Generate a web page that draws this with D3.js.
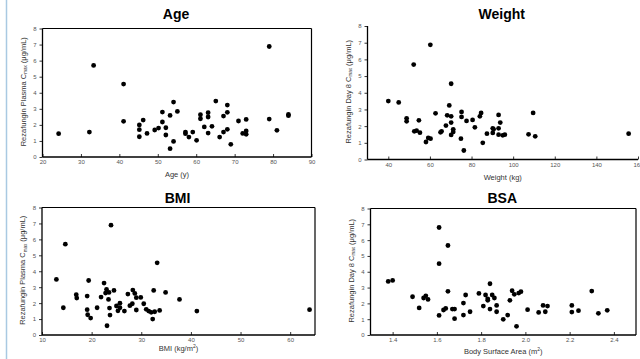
<!DOCTYPE html>
<html>
<head>
<meta charset="utf-8">
<script src="https://cdn.jsdelivr.net/npm/d3@7"></script>
<style>
  body { margin: 0; background: #fff; }
  svg { display: block; font-family: "Liberation Sans", Arial, sans-serif; }
</style>
</head>
<body>
<div id="chart"></div>
<script>
// values
const ageX = [24.2, 32.2, 33.3, 41.1, 41.1, 45.2, 45.2, 45.2, 46.2, 47.2, 49.2, 50.2, 51.2, 51.2, 52.1, 52.1, 53.2, 53.2, 54.1, 54.1, 55.1, 57.2, 57.2, 58.1, 59.1, 60.1, 61.1, 61.1, 62.1, 63.1, 63.1, 63.1, 64.1, 65.1, 66.1, 67.1, 67.1, 68.1, 68.1, 68.1, 69.0, 71.0, 72.1, 73.0, 73.0, 73.0, 79.0, 79.0, 81.0, 84.0, 84.0];
const ageY = [1.45, 1.55, 5.7, 4.54, 2.22, 2.0, 1.7, 1.26, 2.3, 1.47, 1.68, 1.8, 2.8, 2.18, 1.82, 1.37, 2.59, 0.52, 3.42, 0.97, 2.84, 1.55, 1.45, 1.24, 1.55, 1.04, 2.63, 2.38, 1.87, 2.76, 2.49, 1.49, 1.91, 3.48, 1.24, 2.55, 1.55, 3.23, 2.78, 1.72, 0.79, 2.24, 1.47, 2.34, 1.62, 1.41, 6.88, 2.36, 1.66, 2.65, 2.57];

const weightX = [40, 45, 48.8, 48.8, 52.2, 52.5, 53.6, 54.7, 55.2, 60.2, 58.1, 59.2, 60.3, 62.7, 65.1, 65.6, 67.7, 68.3, 69.3, 70.2, 70.2, 70.2, 70.2, 71.2, 71.2, 74.9, 75.2, 75.2, 76.3, 77.6, 80.5, 81.6, 84.0, 84.6, 85.4, 87.4, 90.2, 90.2, 90.6, 93.0, 93.0, 93.0, 93.8, 95.0, 96.0, 107.4, 110.6, 109.6, 155.5];
const weightY = [3.5, 3.42, 2.47, 2.29, 5.69, 1.69, 1.73, 2.35, 1.61, 6.87, 1.05, 1.29, 1.25, 2.77, 1.63, 1.69, 2.03, 2.65, 3.24, 4.54, 2.59, 2.21, 1.47, 1.81, 1.65, 1.25, 2.85, 2.55, 0.54, 2.31, 2.37, 1.93, 2.59, 2.79, 1.0, 1.55, 1.87, 1.59, 1.81, 2.67, 1.87, 1.49, 2.21, 1.45, 1.49, 1.51, 1.39, 2.79, 1.55];

const bmiX = [12.9, 14.3, 14.7, 16.9, 17.0, 19.1, 19.1, 19.2, 19.4, 19.8, 21.1, 21.9, 22.5, 22.8, 23.0, 23.1, 23.4, 23.5, 23.6, 23.7, 23.9, 24.5, 25.0, 25.3, 25.7, 25.7, 26.6, 27.3, 27.7, 28.2, 28.3, 28.7, 29.0, 29.0, 29.9, 30.5, 31.0, 31.5, 32.0, 32.3, 32.5, 32.7, 33.2, 33.7, 34.9, 37.7, 41.2, 63.9];
const bmiY = [3.49, 1.71, 5.7, 2.53, 2.32, 2.44, 1.59, 1.27, 3.42, 1.06, 1.71, 2.38, 3.26, 2.63, 2.86, 0.58, 2.23, 2.67, 1.69, 1.25, 6.89, 2.8, 1.82, 1.52, 2.0, 1.71, 1.5, 2.57, 1.84, 1.96, 2.82, 2.61, 2.34, 1.57, 2.36, 1.96, 1.61, 1.5, 1.42, 1.0, 2.8, 1.46, 4.53, 1.54, 2.67, 2.23, 1.5, 1.59];

const bsaX = [1.38, 1.40, 1.49, 1.52, 1.54, 1.55, 1.56, 1.61, 1.61, 1.61, 1.63, 1.64, 1.65, 1.65, 1.67, 1.68, 1.68, 1.72, 1.72, 1.73, 1.75, 1.79, 1.81, 1.82, 1.83, 1.83, 1.84, 1.84, 1.85, 1.86, 1.87, 1.87, 1.90, 1.92, 1.93, 1.94, 1.95, 1.96, 1.97, 1.98, 2.01, 2.06, 2.08, 2.09, 2.10, 2.21, 2.21, 2.24, 2.30, 2.33, 2.37];
const bsaY = [3.39, 3.45, 2.42, 1.71, 2.34, 2.48, 2.25, 1.24, 4.51, 6.8, 1.58, 1.68, 5.66, 2.76, 1.64, 1.03, 1.64, 2.02, 1.26, 2.53, 1.47, 2.63, 1.83, 2.53, 2.29, 2.19, 3.24, 1.64, 2.53, 2.34, 1.87, 1.47, 0.99, 1.26, 2.19, 2.8, 2.57, 0.55, 2.65, 2.74, 1.6, 1.43, 1.87, 1.47, 1.83, 1.87, 1.45, 1.54, 2.78, 1.37, 1.56];

const yTicks = [0, 1, 2, 3, 4, 5, 6, 7, 8];
const ageTicks = [20, 30, 40, 50, 60, 70, 80, 90];
const weightTicks = [40, 60, 80, 100, 120, 140, 160];
const bmiTicks = [10, 20, 30, 40, 50, 60];
const bsaTicks = [1.4, 1.6, 1.8, 2.0, 2.2, 2.4];

const width = 640, height = 359;

const svg = d3.select('#chart').append('svg')
  .attr('width', width)
  .attr('height', height);

// slide edge line
svg.append('line')
  .attr('x1', 6.5).attr('x2', 6.5)
  .attr('y1', 0).attr('y2', height)
  .attr('stroke', '#a9c9e2')
  .attr('stroke-width', 1.5);

const panels = [
  { title: 'Age', xs: ageX, ys: ageY, xDomain: [20, 90], ticks: ageTicks, fmt: d3.format('d'),
    left: 42.5, right: 311.5, top: 28.5, bottom: 157, titleY: 19, xLabel: 'Age (y)', xLabelY: 177,
    yLabel: 'Rezafungin Plasma C', frame: true },
  { title: 'Weight', xs: weightX, ys: weightY, xDomain: [30, 160], ticks: weightTicks, fmt: d3.format('d'),
    left: 367.5, right: 638, top: 26, bottom: 159.5, titleY: 19, xLabel: 'Weight (kg)', xLabelY: 180,
    yLabel: 'Rezafungin Day 8 C', frame: false },
  { title: 'BMI', xs: bmiX, ys: bmiY, xDomain: [10, 65], ticks: bmiTicks, fmt: d3.format('d'),
    left: 42, right: 315, top: 207.5, bottom: 335, titleY: 203, xLabel: 'BMI (kg/m', sup: true, xLabelY: 351,
    yLabel: 'Rezafungin Plasma C', frame: true },
  { title: 'BSA', xs: bsaX, ys: bsaY, xDomain: [1.3, 2.5], ticks: bsaTicks, fmt: d3.format('.1f'),
    left: 370.5, right: 636, top: 208.5, bottom: 335, titleY: 203, xLabel: 'Body Surface Area (m', sup: true, xLabelY: 354,
    yLabel: 'Rezafungin Day 8 C', frame: true }
];

panels.forEach(p => {
  const x = d3.scaleLinear().domain(p.xDomain).range([p.left, p.right]);
  const y = d3.scaleLinear().domain([0, 8]).range([p.bottom, p.top]);
  const g = svg.append('g');

  // title
  g.append('text')
    .attr('x', (p.left + p.right) / 2 - 1)
    .attr('y', p.titleY)
    .attr('text-anchor', 'middle')
    .attr('font-family', '"Liberation Sans Narrow", "Liberation Sans", Arial, sans-serif')
    .attr('font-weight', 'bold')
    .attr('font-size', 14)
    .text(p.title);

  // axes: x ticks point inward, y ticks outward
  const xAxis = d3.axisBottom(x).tickValues(p.ticks).tickFormat(p.fmt).tickSize(-3).tickPadding(3);
  const yAxis = d3.axisLeft(y).tickValues(yTicks).tickSize(3).tickPadding(3);

  const xg = g.append('g').attr('transform', `translate(0,${p.bottom})`).call(xAxis);
  const yg = g.append('g').attr('transform', `translate(${p.left},0)`).call(yAxis);
  [xg, yg].forEach(a => {
    a.select('.domain').remove();
    a.selectAll('line').attr('stroke', '#000').attr('stroke-width', 0.8);
    a.selectAll('text').attr('font-size', 6).attr('fill', '#555');
  });

  // axis lines / frame
  g.append('line').attr('x1', p.left).attr('x2', p.left).attr('y1', p.top).attr('y2', p.bottom)
    .attr('stroke', '#000').attr('stroke-width', 1.3);
  g.append('line').attr('x1', p.left).attr('x2', p.right).attr('y1', p.bottom).attr('y2', p.bottom)
    .attr('stroke', '#000').attr('stroke-width', 1.3);
  if (p.frame) {
    g.append('line').attr('x1', p.left).attr('x2', p.right).attr('y1', p.top).attr('y2', p.top)
      .attr('stroke', '#000').attr('stroke-width', 1.2);
    g.append('line').attr('x1', p.right).attr('x2', p.right).attr('y1', p.top).attr('y2', p.bottom)
      .attr('stroke', '#000').attr('stroke-width', 1.2);
  }

  // x label
  const xl = g.append('text')
    .attr('x', (p.left + p.right) / 2)
    .attr('y', p.xLabelY)
    .attr('text-anchor', 'middle')
    .attr('font-size', 7.5)
    .attr('fill', '#333')
    .text(p.xLabel);
  if (p.sup) {
    xl.append('tspan').attr('dy', -3).attr('font-size', 5).text('2');
    xl.append('tspan').attr('dy', 3).text(')');
  }

  // y label
  const yl = g.append('text')
    .attr('transform', `translate(${p.left - 17},${(p.top + p.bottom) / 2 - 1}) rotate(-90)`)
    .attr('text-anchor', 'middle')
    .attr('font-family', '"Liberation Sans Narrow", "Liberation Sans", Arial, sans-serif')
    .attr('font-size', 7.5)
    .attr('fill', '#333')
    .text(p.yLabel);
  yl.append('tspan').attr('dy', 1.5).attr('font-size', 4.5).text('max');
  yl.append('tspan').attr('dy', -1.5).text(' (\u03bcg/mL)');

  // points
  g.selectAll('circle')
    .data(d3.zip(p.xs, p.ys))
    .join('circle')
      .attr('cx', d => x(d[0]))
      .attr('cy', d => y(d[1]))
      .attr('r', 2.4)
      .attr('fill', '#000');
});
</script>
</body>
</html>
